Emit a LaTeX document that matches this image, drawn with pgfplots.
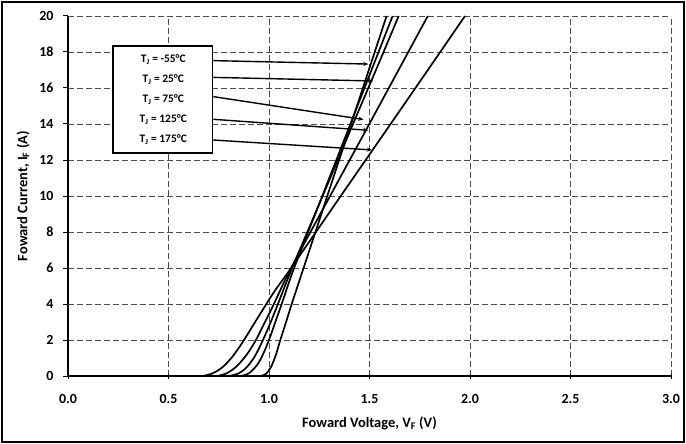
\documentclass[border=0pt]{standalone}
\usepackage{fontspec}
\setmainfont{Carlito}
\usepackage{pgfplots}
\pgfplotsset{compat=1.18}
\usetikzlibrary{arrows.meta}
\tikzset{curve/.style={black,line width=1.7pt,no markers,smooth,tension=0.5}}
\begin{document}
\begin{tikzpicture}
\useasboundingbox (-68bp,-68bp) rectangle (618bp,376bp);
\draw[line width=1.6pt] (-66bp,-66bp) rectangle (616bp,374bp);
\begin{axis}[
  at={(0,0)}, anchor=south west,
  scale only axis, width=603bp, height=360bp,
  xmin=0, xmax=3, ymin=0, ymax=20,
  axis x line=bottom, axis y line=left,
  axis line style={line width=1.6pt,-},
  xtick={0,0.5,1,1.5,2,2.5,3},
  xticklabels={0.0,0.5,1.0,1.5,2.0,2.5,3.0},
  ytick={0,2,8,10,12,18},
  extra y ticks={4,6,14,16,20},
  extra y tick style={grid style={black!22,line width=1.1pt,dash pattern=on 6bp off 3bp}},
  grid=major,
  major grid style={black!70,line width=0.8pt,dash pattern=on 6bp off 3bp},
  xtick align=center, ytick align=outside,
  major tick length=5bp,
  tick style={black,line width=1pt},
  /pgf/number format/assume math mode=true,
  ticklabel style={font=\bfseries\fontsize{14}{16}\selectfont},
  xticklabel style={yshift=-12bp},
  yticklabel style={xshift=-6bp},
  xlabel={Foward Voltage, V\textsubscript{F} (V)},
  ylabel={Foward Current, I\textsubscript{F} (A)},
  label style={font=\bfseries\fontsize{14.5}{17}\selectfont},
  xlabel style={at={(axis description cs:0.5,-0.1306)},anchor=center},
  ylabel style={at={(axis description cs:-0.0746,0.5)},anchor=center},
  clip=true,
]
% T_J = -55 C
\addplot[curve] coordinates {(0.96,0) (0.985,0.12) (1.01,0.5) (1.035,1.2) (1.055,1.95) (1.085,3.0) (1.113,4) (1.172,6) (1.29,10) (1.408,14) (1.526,18) (1.585,20)};
% T_J = 25 C
\addplot[curve] coordinates {(0.86,0) (0.90,0.15) (0.94,0.6) (0.97,1.2) (1.0,2.0) (1.03,2.95) (1.063,4) (1.125,6) (1.265,10) (1.405,14) (1.545,18) (1.615,20)};
% T_J = 75 C
\addplot[curve] coordinates {(0.80,0) (0.85,0.15) (0.89,0.5) (0.93,1.1) (0.97,2.0) (1.005,2.9) (1.041,3.9) (1.115,6) (1.267,10) (1.418,14) (1.57,18) (1.645,20)};
% T_J = 125 C
\addplot[curve] coordinates {(0.74,0) (0.79,0.15) (0.84,0.55) (0.89,1.2) (0.935,2.0) (0.98,3.0) (1.02,3.9) (1.11,6) (1.304,10) (1.499,14) (1.693,18) (1.79,20)};
% T_J = 175 C
\addplot[curve] coordinates {(0.67,0) (0.72,0.15) (0.77,0.5) (0.82,1.1) (0.87,1.9) (0.92,2.8) (0.97,3.7) (1.03,4.75) (1.11,6) (1.357,10) (1.605,14) (1.852,18) (1.975,20)};
% annotation box
\draw[line width=1.5pt,fill=white] (axis cs:0.225,18.33) rectangle (axis cs:0.72,12.4);
\begin{scope}[font=\bfseries\fontsize{11.5}{13}\selectfont]
\node at (axis cs:0.474,17.56) {T\textsubscript{J} = -55°C};
\node at (axis cs:0.474,16.48) {T\textsubscript{J} = 25°C};
\node at (axis cs:0.474,15.37) {T\textsubscript{J} = 75°C};
\node at (axis cs:0.474,14.26) {T\textsubscript{J} = 125°C};
\node at (axis cs:0.474,13.15) {T\textsubscript{J} = 175°C};
\end{scope}
\begin{scope}[line width=1.4pt,-{Stealth[length=5bp,width=4bp]}]
\draw (axis cs:0.723,17.52) -- (axis cs:1.494,17.33);
\draw (axis cs:0.723,16.59) -- (axis cs:1.519,16.39);
\draw (axis cs:0.723,15.52) -- (axis cs:1.47,14.25);
\draw (axis cs:0.723,14.26) -- (axis cs:1.494,13.65);
\draw (axis cs:0.723,13.11) -- (axis cs:1.511,12.56);
\end{scope}
\end{axis}
\end{tikzpicture}
\end{document}
